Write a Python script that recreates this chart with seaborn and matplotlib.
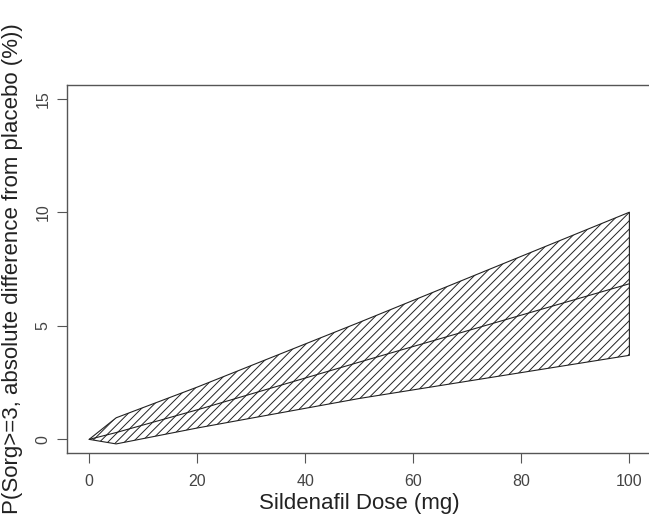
import matplotlib
matplotlib.use('Agg')
import matplotlib.pyplot as plt
import numpy as np
import pandas as pd
import seaborn as sns

## Values
dose = [0, 5, 20, 50, 100]
mean_diff = [0, 0.3, 1.3, 3.4, 6.85]
lower_ci = [0, -0.2, 0.5, 1.8, 3.7]
upper_ci = [0, 0.95, 2.3, 5.15, 10.0]

x_ticks = [0, 20, 40, 60, 80, 100]
y_ticks = [0, 5, 10, 15]

df = pd.DataFrame({'dose': dose, 'mean': mean_diff, 'lower': lower_ci, 'upper': upper_ci})

sns.set_theme(style='white')
plt.rcParams['font.family'] = ['Liberation Sans', 'DejaVu Sans']
plt.rcParams['hatch.linewidth'] = 0.7
plt.rcParams['hatch.color'] = '#222222'

fig = plt.figure(figsize=(6.49, 5.18), dpi=100)
ax = fig.add_axes([67 / 649, 65 / 518, 584 / 649, 368 / 518])

# hatched confidence band
ax.fill_between(df['dose'], df['lower'], df['upper'], facecolor='white',
                edgecolor='#222222', hatch='////', linewidth=0.8)
sns.lineplot(data=df, x='dose', y='mean', color='#222222', linewidth=0.8, ax=ax)

ax.set_xlim(-4.1, 104)
ax.set_ylim(-0.6, 15.6)
ax.set_xticks(x_ticks)
ax.set_yticks(y_ticks)
ax.set_yticklabels([str(t) for t in y_ticks], rotation=90, va='center')

for s in ['left', 'bottom', 'top']:
    ax.spines[s].set_color('#555555')
    ax.spines[s].set_linewidth(1.0)
ax.spines['right'].set_visible(False)

ax.tick_params(axis='both', direction='out', length=7, width=0.8, color='#555555',
               labelsize=11.5, labelcolor='#444444', left=True, bottom=True)
ax.tick_params(axis='y', pad=5)
ax.tick_params(axis='x', pad=8)

ax.set_xlabel('Sildenafil Dose (mg)', fontsize=16, color='#222222', labelpad=3)
ax.set_ylabel('P(Sorg>=3, absolute difference from placebo (%))', fontsize=16,
              color='#222222', labelpad=9)

plt.savefig('out.png', dpi=100)
